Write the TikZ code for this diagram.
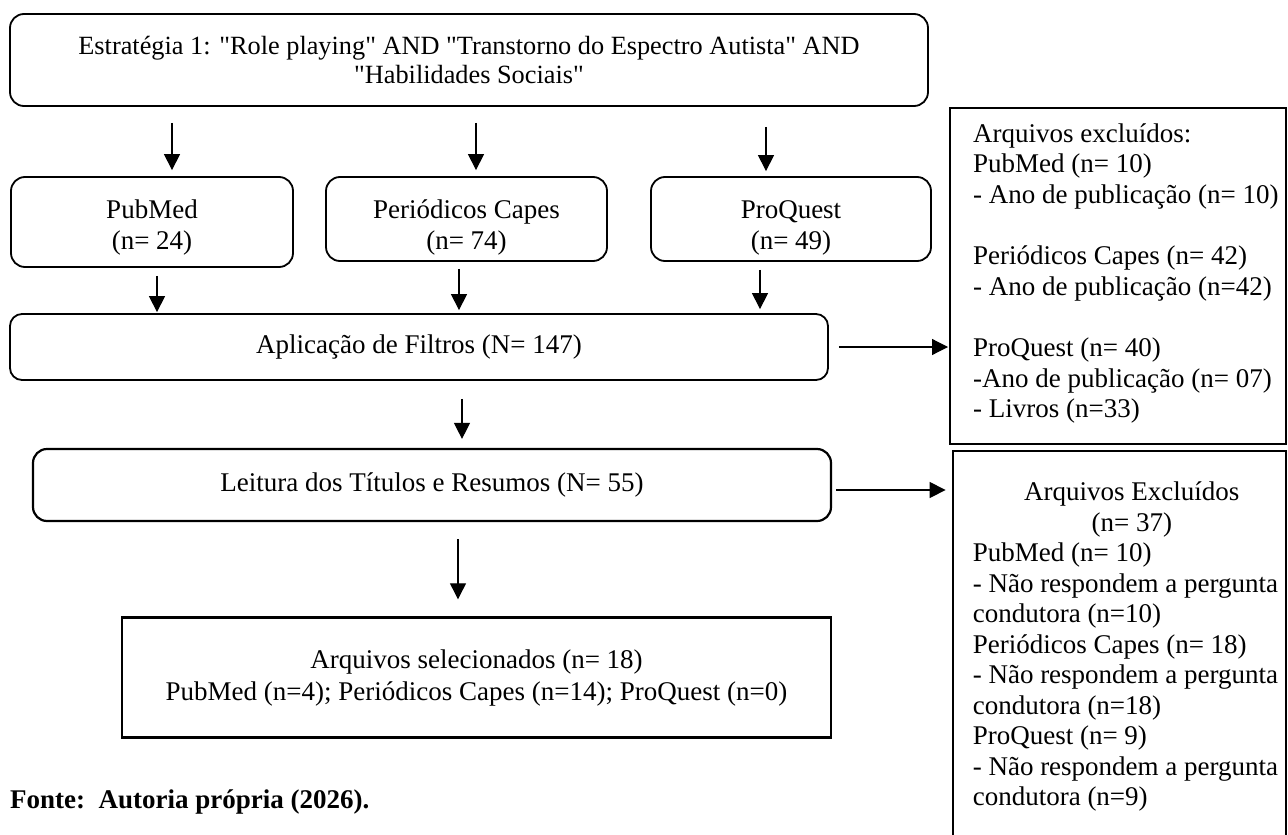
\documentclass[tikz,border=0pt]{standalone}
\usepackage{fontspec}
\setmainfont{Liberation Serif}[Ligatures=TeXOff]
\usetikzlibrary{arrows.meta,calc}
\newcommand{\twolines}[2]{\vtop{\hbox to 0pt{\hss#1\hss}\hbox to 0pt{\hss#2\hss}}}
\begin{document}
\begin{tikzpicture}[x=1pt,y=-1pt,
  every node/.style={font=\fontsize{27}{30.5}\selectfont, inner sep=0pt},
  rbox/.style={draw, rounded corners=14pt, line width=1.8pt, align=center},
  sbox/.style={draw, line width=2pt},
  boxtext/.style={anchor=base, font=\fontsize{27}{31}\selectfont},
  arr/.style={-{Triangle[length=16pt,width=16pt]}, line width=1.2pt}]
\useasboundingbox (0,0) rectangle (1288,835);
% boxes
\node[rbox, minimum width=918pt, minimum height=92pt, font=\fontsize{26.3}{29}\selectfont] (top) at (469,60)
  {Estratégia 1: "Role playing" AND "Transtorno do Espectro Autista" AND\\"Habilidades Sociais"};
\node[rbox, minimum width=282pt, minimum height=90pt] (pm) at (152,222) {};
\node[rbox, minimum width=281pt, minimum height=84pt] (pc) at (466.5,219) {};
\node[rbox, minimum width=280pt, minimum height=84pt] (pq) at (791,219) {};
\node[boxtext] (pmt) at ($(pm.center)+(0,-4)$) {\twolines{PubMed}{(n= 24)}};
\node[boxtext] (pct) at ($(pc.center)+(0,-1)$) {\twolines{Periódicos Capes}{(n= 74)}};
\node[boxtext] (pqt) at ($(pq.center)+(0,-1)$) {\twolines{ProQuest}{(n= 49)}};
\node[rbox, rounded corners=12pt, minimum width=818pt, minimum height=66pt] (ap) at (419,347) {Aplicação de Filtros (N= 147)};
\node[rbox, line width=2.2pt, minimum width=798pt, minimum height=72pt] (le) at (432,485) {Leitura dos Títulos e Resumos (N= 55)};
\node[sbox, line width=2.4pt, minimum width=709pt, minimum height=120pt, align=center, font=\fontsize{27}{32}\selectfont] (se) at (476.5,677.5)
  {Arquivos selecionados (n= 18)\\PubMed (n=4); Periódicos Capes (n=14); ProQuest (n=0)};
\node[sbox, minimum width=336pt, minimum height=336pt] (ex1) at (1118,276) {};
\node[sbox, line width=2.8pt, minimum width=333pt, minimum height=399pt] (ex2) at (1119.5,650.5) {};
% texts of the exclusion boxes
\node[anchor=base west] (ex1t) at ($(ex1.north west)+(24,35)$) {\vtop{%
  \hbox{Arquivos excluídos:}\hbox{PubMed (n= 10)}\hbox{- Ano de publicação (n= 10)}\vskip31pt
  \hbox{Periódicos Capes (n= 42)}\hbox{- Ano de publicação (n=42)}\vskip31pt
  \hbox{ProQuest (n= 40)}\hbox{-Ano de publicação (n= 07)}\hbox{- Livros (n=33)}}};
\node[anchor=base west] (ex2t) at ($(ex2.north west)+(21,51)$) {\vtop{%
  \hbox to 318pt{\hfil Arquivos Excluídos\hfil}\hbox to 318pt{\hfil(n= 37)\hfil}
  \hbox{PubMed (n= 10)}\hbox{- Não respondem a pergunta}\hbox{condutora (n=10)}
  \hbox{Periódicos Capes (n= 18)}\hbox{- Não respondem a pergunta}\hbox{condutora (n=18)}
  \hbox{ProQuest (n= 9)}\hbox{- Não respondem a pergunta}\hbox{condutora (n=9)}}};
\node[anchor=base west, font=\bfseries\fontsize{27}{30}\selectfont] (src) at (10,808) {Fonte:\ \ Autoria própria (2026).};
% arrows
\draw[arr] ($(top.south -| pm.north)+(20,16)$) -- ($(pm.north)+(20,-6)$);
\draw[arr] ($(top.south -| pc.north)+(9.5,16)$) -- ($(pc.north)+(9.5,-6)$);
\draw[arr] ($(top.south -| pq.north)+(-25,20)$) -- ($(pq.north)+(-25,-5)$);
\draw[arr] ($(pm.south)+(5,8)$) -- ($(pm.south |- ap.north)+(5,-1)$);
\draw[arr] ($(pc.south)+(-7.5,7)$) -- ($(pc.south |- ap.north)+(-7.5,-3)$);
\draw[arr] ($(pq.south)+(-31,8)$) -- ($(pq.south |- ap.north)+(-31,-4)$);
\draw[arr] ($(ap.east)+(10,0)$) -- ($(ap.east -| ex1.west)+(-1,0)$);
\draw[arr] ($(ap.south)+(43,18)$) -- ($(le.north)+(30,-9)$);
\draw[arr] ($(le.east)+(4,5)$) -- ($(le.east -| ex2.west)+(-6,5)$);
\draw[arr] ($(le.south)+(26,17)$) -- ($(se.north)+(-18.5,-17)$);
\end{tikzpicture}
\end{document}
